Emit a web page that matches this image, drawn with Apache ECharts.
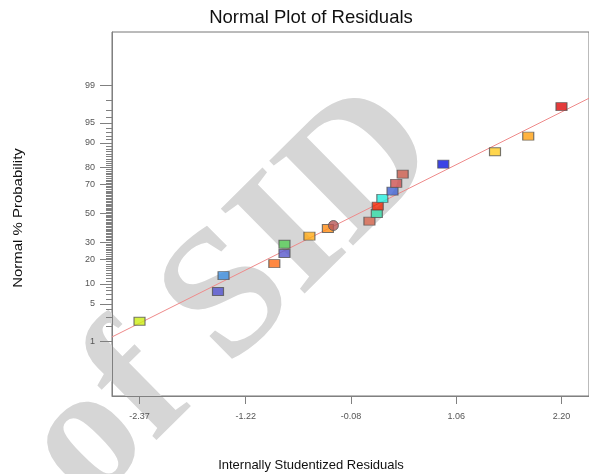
<!DOCTYPE html>
<html>
<head>
<meta charset="utf-8">
<script src="https://cdn.jsdelivr.net/npm/echarts@6/dist/echarts.min.js"></script>
<style>
    html, body { margin: 0; padding: 0; background: #fff; }
    #chart { width: 589px; height: 474px; }
</style>
</head>
<body>
<div id="chart"></div>
<script>
// values
const residuals = [-2.37, -1.52, -1.46, -0.91, -0.80, -0.80, -0.53, -0.33, -0.27, 0.12, 0.20, 0.21, 0.26, 0.37, 0.41, 0.48, 0.92, 1.48, 1.84, 2.20]
const probabilities = [2.5, 7.8, 12.9, 18.1, 23.3, 28.8, 34.0, 39.2, 41.3, 44.4, 50.0, 55.3, 60.8, 65.8, 70.8, 76.3, 81.5, 86.9, 92.0, 97.4]
const pointColors = [
    '#ccee11', '#5252d0', '#3d8fe0', '#ff6a12', '#5656cc',
    '#55cc55', '#ffaa14', '#ff8c12', '#b85858', '#d8664e',
    '#33dda8', '#ee2200', '#22eedd', '#4062d2', '#cc5050',
    '#d06050', '#0a14e0', '#ffcc22', '#ffa010', '#dd0a0a',
]
const pointShapes = [
    'rect', 'rect', 'rect', 'rect', 'rect', 'rect', 'rect', 'rect', 'circle', 'rect',
    'rect', 'rect', 'rect', 'rect', 'rect', 'rect', 'rect', 'rect', 'rect', 'rect',
]
const fitLineX = [-2.67, 2.50]
const fitLineProb = [1.23, 98.2]
const xTickLabels = [-2.37, -1.22, -0.08, 1.06, 2.20]
const yTickLabels = [1, 5, 10, 20, 30, 50, 70, 80, 90, 95, 99]

// inverse normal cdf (Acklam), turns % probability into the plot's z scale
function probit(pct) {
    const p = pct / 100
    const a = [-39.69683028665376, 220.9460984245205, -275.9285104469687, 138.3577518672690, -30.66479806614716, 2.506628277459239]
    const b = [-54.47609879822406, 161.5858368580409, -155.6989798598866, 66.80131188771972, -13.28068155288572]
    const c = [-0.007784894002430293, -0.3223964580411365, -2.400758277161838, -2.549732539343734, 4.374664141464968, 2.938163982698783]
    const d = [0.007784695709041462, 0.3224671290700398, 2.445134137142996, 3.754408661907416]
    const lo = 0.02425
    if (p < lo || p > 1 - lo) {
        const q = Math.sqrt(-2 * Math.log(p < lo ? p : 1 - p))
        const v = (((((c[0] * q + c[1]) * q + c[2]) * q + c[3]) * q + c[4]) * q + c[5]) /
            ((((d[0] * q + d[1]) * q + d[2]) * q + d[3]) * q + 1)
        return p < lo ? v : -v
    }
    const q = p - 0.5
    const r = q * q
    return (((((a[0] * r + a[1]) * r + a[2]) * r + a[3]) * r + a[4]) * r + a[5]) * q /
        (((((b[0] * r + b[1]) * r + b[2]) * r + b[3]) * r + b[4]) * r + 1)
}

const majorZ = yTickLabels.map(probit)
const minorZ = []
for (let p = 1; p <= 99; p++) minorZ.push(probit(p))

const Y_MIN = -3.32
const Y_MAX = 3.30
const axisGray = '#808080'
const labelGray = '#555'

const chart = echarts.init(document.getElementById('chart'), null, { renderer: 'canvas' })

chart.setOption({
    animation: false,
    grid: {
        left: 112, top: 32, right: -4, bottom: 78,
        show: true, borderColor: '#777', borderWidth: 1,
    },
    graphic: [
        {
            type: 'text', z: 0, x: 411, y: 122, rotation: 0.78,
            style: {
                text: 'Archive of SID', fill: '#d6d6d6',
                font: 'bold 182px "Liberation Serif"',
                align: 'right', verticalAlign: 'middle',
            },
        },
        {
            type: 'text', x: 311, y: 18,
            style: { text: 'Normal Plot of Residuals', fill: '#111', font: '18.5px "Liberation Sans"', align: 'center', verticalAlign: 'middle' },
        },
        {
            type: 'text', x: 311, y: 465,
            style: { text: 'Internally Studentized Residuals', fill: '#111', font: '13px "Liberation Sans"', align: 'center', verticalAlign: 'middle' },
        },
        {
            type: 'text', x: 18, y: 218, rotation: Math.PI / 2, scaleX: 1.15,
            style: { text: 'Normal % Probability', fill: '#111', font: '13px "Liberation Sans"', align: 'center', verticalAlign: 'middle' },
        },
    ],
    xAxis: {
        type: 'value',
        min: -2.668,
        max: 2.498,
        axisLine: { onZero: false, lineStyle: { color: axisGray } },
        axisTick: { customValues: xTickLabels, length: 8, lineStyle: { color: axisGray } },
        axisLabel: {
            customValues: xTickLabels,
            formatter: (v) => v.toFixed(2),
            fontSize: 9, color: labelGray, margin: 16, fontFamily: 'Liberation Sans',
        },
        splitLine: { show: false },
    },
    yAxis: [
        {
            type: 'value',
            min: Y_MIN,
            max: Y_MAX,
            axisLine: { show: true, onZero: false, lineStyle: { color: axisGray } },
            axisTick: { customValues: majorZ, length: 12, lineStyle: { color: axisGray } },
            axisLabel: {
                customValues: majorZ,
                formatter: (v) => {
                    const i = majorZ.findIndex((z) => Math.abs(z - v) < 1e-6)
                    return i >= 0 ? String(yTickLabels[i]) : ''
                },
                fontSize: 9, color: labelGray, margin: 17, fontFamily: 'Liberation Sans',
            },
            splitLine: { show: false },
        },
        {
            type: 'value',
            position: 'left',
            min: Y_MIN,
            max: Y_MAX,
            axisLine: { show: false, onZero: false },
            axisTick: { show: true, customValues: minorZ, length: 6, lineStyle: { color: axisGray } },
            axisLabel: { show: false },
            splitLine: { show: false },
        },
    ],
    series: [
        {
            name: 'fit',
            type: 'line',
            data: fitLineX.map((x, i) => [x, probit(fitLineProb[i])]),
            showSymbol: false,
            silent: true,
            lineStyle: { color: '#ee8a8a', width: 1 },
            z: 1,
        },
        {
            name: 'residuals',
            type: 'scatter',
            data: residuals.map((x, i) => ({
                value: [x, probit(probabilities[i])],
                symbol: pointShapes[i],
                symbolSize: pointShapes[i] === 'circle' ? 10 : [11, 8],
                itemStyle: { color: pointColors[i] },
            })),
            itemStyle: { borderColor: '#555', borderWidth: 1 },
            z: 3,
        },
    ],
})
</script>
</body>
</html>
